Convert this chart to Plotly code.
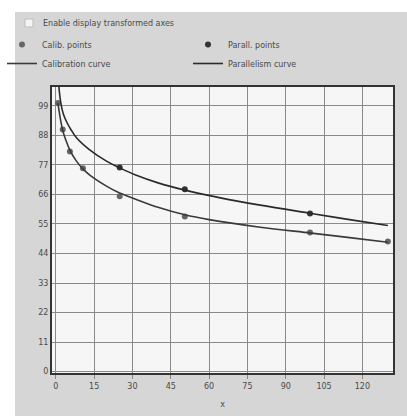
import plotly.graph_objects as go

# Data
calib_x = [0.8, 2.7, 5.5, 10.6, 25, 50.5, 99.5, 130]
calib_y = [100, 90.2, 82, 75.7, 65.3, 57.8, 51.8, 48.5]

parall_x = [25, 50.5, 99.5]
parall_y = [76, 67.9, 58.9]

calib_curve_x = [0.8, 2, 2.7, 4, 5.5, 8, 10.6, 13.3, 20, 25, 31, 40, 50.5, 60, 80, 100, 115, 130]
calib_curve_y = [100, 93, 89.8, 86, 82.5, 78.5, 75.5, 73.2, 69, 66.5, 64.3, 61.2, 58.4, 56.6, 53.8, 51.6, 49.9, 48.2]

parall_curve_x = [1.2, 1.8, 2.5, 3.3, 4.5, 6, 8, 13, 20, 25, 31, 40, 51, 64, 80, 100, 115, 130]
parall_curve_y = [106, 101, 97.5, 95, 92.5, 90, 87.2, 82.8, 78.3, 75.9, 73.3, 70.3, 67.5, 64.8, 62, 58.9, 56.6, 54.4]

x_ticks = [0, 15, 30, 45, 60, 75, 90, 105, 120]
y_ticks = [0, 11, 22, 33, 44, 55, 66, 77, 88, 99]

W, H = 407, 416
L, R, T, B = 52, 14, 87, 43
pw, ph = W - L - R, H - T - B

def px(xp):
    return (xp - L) / pw

def py(yp):
    return (H - B - yp) / ph

txt = "#4a4a4a"
fnt = dict(family="DejaVu Sans", size=8, color=txt)

fig = go.Figure()
fig.add_trace(go.Scatter(x=calib_x, y=calib_y, mode="markers", name="Calib. points",
                         marker=dict(size=6, color="#666666")))
fig.add_trace(go.Scatter(x=parall_x, y=parall_y, mode="markers", name="Parall. points",
                         marker=dict(size=6, color="#333333")))
fig.add_trace(go.Scatter(x=calib_curve_x, y=calib_curve_y, mode="lines", name="Calibration curve",
                         line=dict(color="#3a3a3a", width=1.6, shape="spline")))
fig.add_trace(go.Scatter(x=parall_curve_x, y=parall_curve_y, mode="lines", name="Parallelism curve",
                         line=dict(color="#2a2a2a", width=1.6, shape="spline")))

# photo-like background: white strips on top and left, gray panel elsewhere
fig.add_shape(type="rect", xref="paper", yref="paper", x0=px(0), x1=px(W), y0=py(12), y1=py(0),
              fillcolor="white", line_width=0, layer="below")
fig.add_shape(type="rect", xref="paper", yref="paper", x0=px(0), x1=px(15), y0=py(H), y1=py(0),
              fillcolor="white", line_width=0, layer="below")
# checkbox
fig.add_shape(type="rect", xref="paper", yref="paper", x0=px(25), x1=px(33), y0=py(27), y1=py(19),
              fillcolor="#f4f4f4", line=dict(color="#bdbdbd", width=1))
fig.add_annotation(text="Enable display transformed axes", xref="paper", yref="paper",
                   x=px(41), y=py(23), xanchor="left", yanchor="middle", showarrow=False, font=fnt)

fig.update_layout(
    width=W, height=H,
    margin=dict(l=L, r=R, t=T, b=B, autoexpand=False),
    paper_bgcolor="#d6d6d6",
    plot_bgcolor="#f6f6f6",
    font=fnt,
    showlegend=True,
    legend=dict(orientation="h", x=px(2), y=py(30), xanchor="left", yanchor="top",
                entrywidth=141, bgcolor="rgba(0,0,0,0)", font=fnt, tracegroupgap=0,
                itemwidth=30),
    xaxis=dict(range=[-1.5, 132], tickvals=x_ticks, showgrid=True, gridcolor="#8a8a8a", gridwidth=1,
               zeroline=False, showline=True, linecolor="#333333", linewidth=2, mirror=True,
               ticks="outside", ticklen=4, tickcolor="#888888", tickfont=fnt,
               title=dict(text="x", font=fnt, standoff=12)),
    yaxis=dict(range=[-0.5, 106], tickvals=y_ticks, showgrid=True, gridcolor="#8a8a8a", gridwidth=1,
               zeroline=False, showline=True, linecolor="#333333", linewidth=2, mirror=True,
               ticks="", tickfont=fnt),
)

fig.write_html("out.html", config={"displayModeBar": False},
               post_script="document.body.style.margin='0';")
